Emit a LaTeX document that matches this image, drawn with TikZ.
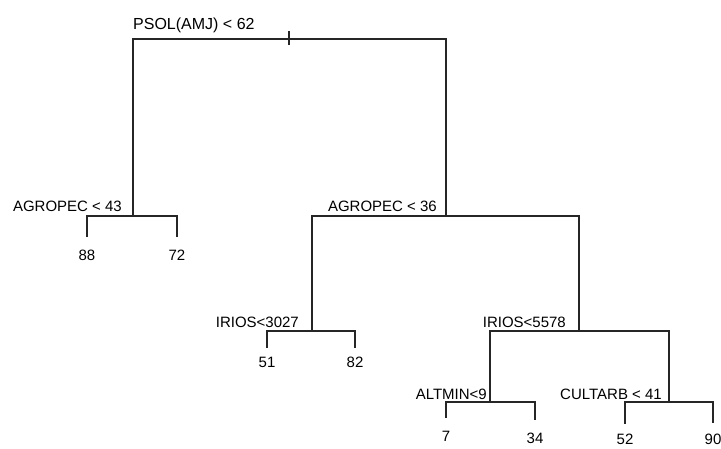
\documentclass[tikz,border=0pt]{standalone}
\usepackage{fontspec}
\setmainfont{Liberation Sans}
\begin{document}
\begin{tikzpicture}[x=1pt,y=-1pt,
  branch/.style={line width=1.6pt,draw=black!85},
  splitlab/.style={anchor=base east,inner sep=0pt,font=\fontsize{15}{18}\selectfont},
  leaflab/.style={anchor=north,inner sep=0pt,font=\fontsize{15}{18}\selectfont}]
\useasboundingbox (0,0) rectangle (721,448);

% split points
\coordinate (root) at (289,39);
\coordinate (agro43) at (133,216);
\coordinate (agro36) at (446,216);
\coordinate (irios3027) at (312,331);
\coordinate (irios5578) at (579,331);
\coordinate (altmin) at (490,402);
\coordinate (cultarb) at (669,402);

% leaf ends
\coordinate (l88) at (87,237);
\coordinate (l72) at (177,237);
\coordinate (l51) at (267,348);
\coordinate (l82) at (355,348);
\coordinate (l7) at (446,418);
\coordinate (l34) at (535,420);
\coordinate (l52) at (625,424);
\coordinate (l90) at (713,423);

% branches
\draw[branch] (root) -| (agro43);
\draw[branch] (root) -| (agro36);
\draw[branch] ([yshift=8pt]root) -- ([yshift=-6pt]root);
\draw[branch] (agro43) -| (l88);
\draw[branch] (agro43) -| (l72);
\draw[branch] (agro36) -| (irios3027);
\draw[branch] (agro36) -| (irios5578);
\draw[branch] (irios3027) -| (l51);
\draw[branch] (irios3027) -| (l82);
\draw[branch] (irios5578) -| (altmin);
\draw[branch] (irios5578) -| (cultarb);
\draw[branch] (altmin) -| (l7);
\draw[branch] (altmin) -| (l34);
\draw[branch] (cultarb) -| (l52);
\draw[branch] (cultarb) -| (l90);

% split labels
\node[anchor=base west,inner sep=0pt,font=\fontsize{16}{19}\selectfont] (troot) at (133,29) {PSOL(AMJ) < 62};
\node[splitlab] (t43) at (122,211) {AGROPEC < 43};
\node[splitlab] (t36) at (437,211) {AGROPEC < 36};
\node[splitlab] (t3027) at (299,327) {IRIOS<3027};
\node[splitlab] (t5578) at (566,327) {IRIOS<5578};
\node[splitlab] (talt) at (487,399) {ALTMIN<9};
\node[splitlab] (tcult) at (662,399) {CULTARB < 41};

% leaf values
\node[leaflab] (v88) at (87,250) {88};
\node[leaflab] (v72) at (177,250) {72};
\node[leaflab] (v51) at (267,357) {51};
\node[leaflab] (v82) at (355,357) {82};
\node[leaflab] (v7) at (446,431) {7};
\node[leaflab] (v34) at (535,433) {34};
\node[leaflab] (v52) at (625,434) {52};
\node[leaflab] (v90) at (713,434) {90};
\end{tikzpicture}
\end{document}
